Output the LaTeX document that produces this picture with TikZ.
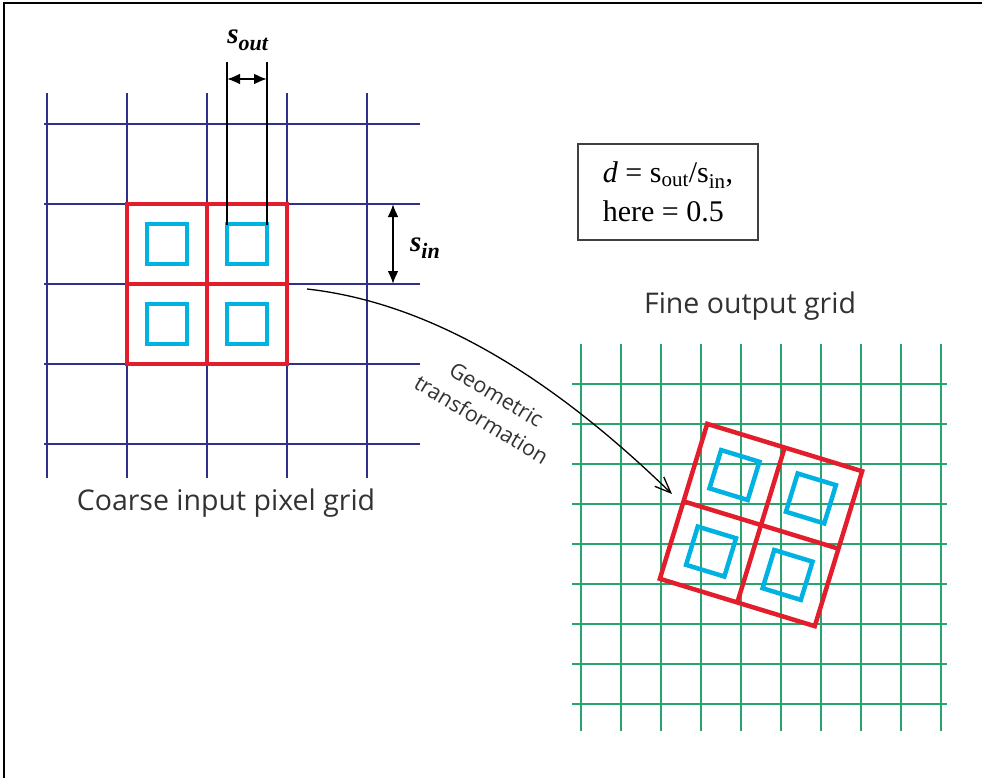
\documentclass[tikz,border=0pt]{standalone}
\usepackage{fontspec}
\setmainfont{Liberation Serif}
\newfontfamily\handfont{Open Sans}
\usetikzlibrary{arrows.meta}

\definecolor{coarseblue}{RGB}{46,49,140}
\definecolor{finegreen}{RGB}{40,165,110}
\definecolor{pixred}{RGB}{226,30,45}
\definecolor{pixcyan}{RGB}{0,178,226}
\definecolor{labelgray}{RGB}{50,50,50}

\tikzset{
  coarse/.style={coarseblue, line width=1.3pt},
  fine/.style={finegreen, line width=1.8pt},
  pixel/.style={pixred, line width=4.5pt},
  sample/.style={pixcyan, line width=4.5pt},
  dimline/.style={black, line width=2.2pt},
  dimarrow/.style={black, line width=2.2pt, {Latex[length=13pt,width=11pt]}-{Latex[length=13pt,width=11pt]}},
  handlabel/.style={font=\handfont\fontsize{28.5}{32}\selectfont, text=labelgray},
}

\begin{document}
\begin{tikzpicture}[x=1pt, y=-1pt]
    \useasboundingbox (0,0) rectangle (982,778);

    % frame
    \draw[line width=2.5pt] (4,778) -- (4,3) -- (982,3);

    % coarse input grid
    \foreach \gx in {47,127,207,287,367}
        \draw[coarse] (\gx,93) -- (\gx,478);
    \foreach \gy in {124,204,284,364,444}
        \draw[coarse] (44,\gy) -- (420,\gy);

    % input pixels
    \draw[pixel] (127,204) rectangle (287,364);
    \draw[pixel] (207,204) -- (207,364);
    \draw[pixel] (127,284) -- (287,284);
    \foreach \cx in {167,247}
        \foreach \cy in {244,324}
            \draw[sample] (\cx-20,\cy-20) rectangle (\cx+20,\cy+20);

    % s_out
    \coordinate (outL) at (227,79);
    \coordinate (outR) at (267,79);
    \draw[dimline] (227,62) -- (227,225);
    \draw[dimline] (267,62) -- (267,225);
    \draw[dimarrow] (outL) -- (outR);
    \node[font=\fontsize{29}{32}\selectfont] (soutlabel) at (248,40) {\textbf{\textit{s}}\raisebox{-7pt}{\fontsize{22}{26}\selectfont\textbf{\textit{out}}}};

    % s_in
    \coordinate (inT) at (393,204);
    \coordinate (inB) at (393,284);
    \draw[dimarrow] (inT) -- (inB);
    \node[font=\fontsize{29}{32}\selectfont] (sinlabel) at (425,248) {\textbf{\textit{s}}\raisebox{-7pt}{\fontsize{22}{26}\selectfont\textbf{\textit{in}}}};

    % formula
    \node[draw, line width=1.3pt, draw=black!75, minimum width=180pt, minimum height=96pt,
          align=left, font=\fontsize{30}{39}\selectfont] (dbox) at (668,192)
        {\textit{d} = s\textsubscript{out}/s\textsubscript{in},\\here = 0.5};

    % fine output grid
    \foreach \i in {0,...,9}
        \draw[fine] (581+40*\i,344) -- (581+40*\i,731);
    \foreach \j in {0,...,8}
        \draw[fine] (572,384+40*\j) -- (947,384+40*\j);

    % transformed pixels
    \begin{scope}[shift={(761,525)}, rotate=-17]
        \draw[pixel] (-81,-81) rectangle (81,81);
        \draw[pixel] (0,-81) -- (0,81);
        \draw[pixel] (-81,0) -- (81,0);
        \foreach \cx in {-40,40}
            \foreach \cy in {-40,40}
                \draw[sample] (\cx-20,\cy-20) rectangle (\cx+20,\cy+20);
    \end{scope}

    % labels
    \node[handlabel] (coarselabel) at (226,503) {Coarse input pixel grid};
    \node[handlabel] (finelabel) at (750,306) {Fine output grid};
    \node[handlabel, font=\handfont\fontsize{21.5}{29}\selectfont, align=center, rotate=-31]
        (geolabel) at (489,407) {Geometric\\transformation};

    % transformation arrow
    \coordinate (src) at (307,289);
    \coordinate (dst) at (672,494);
    \draw[line width=1.3pt, -{Straight Barb[length=16pt,width=13pt]}]
        (src) .. controls (450,305) and (575,400) .. (dst);
\end{tikzpicture}
\end{document}
